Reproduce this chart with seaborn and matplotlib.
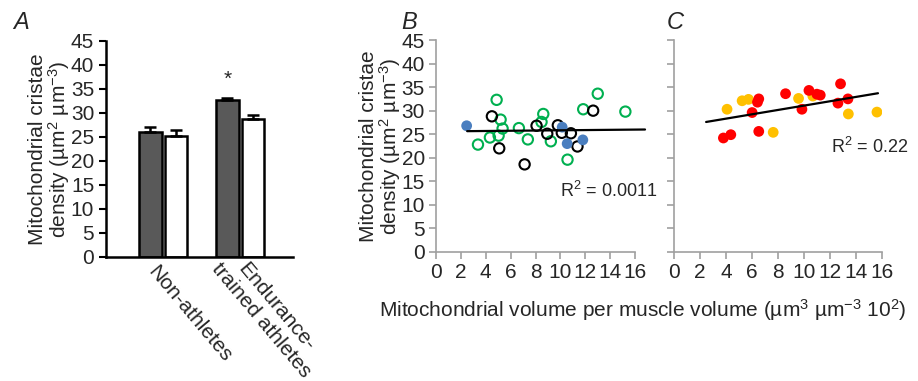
import numpy as np
import pandas as pd
import matplotlib
matplotlib.use('Agg')
import matplotlib.pyplot as plt
import matplotlib.transforms as mtransforms
import seaborn as sns

# ==============================================================================
# DATA
# ==============================================================================
# Panel A - bar chart, mean + SEM
groups = ['Non-athletes', 'Endurance-\ntrained athletes']
series = ['dark', 'light']
bar_dark = [26.1, 32.6]
bar_dark_sem = [1.0, 0.6]
bar_light = [25.3, 28.7]
bar_light_sem = [1.2, 0.9]
star_value = 37.0

# Panel B - scatter
b_blue_x = [2.46, 10.14, 10.54, 11.80]
b_blue_y = [26.8, 26.5, 23.0, 23.8]
b_green_x = [3.37, 4.33, 4.87, 5.19, 5.03, 5.35, 6.66, 7.38, 8.48, 8.62, 9.23, 10.57, 11.83, 13.00, 15.22]
b_green_y = [22.8, 24.3, 32.3, 28.1, 24.7, 26.2, 26.3, 23.9, 27.6, 29.3, 23.5, 19.6, 30.3, 33.6, 29.8]
b_black_x = [4.49, 5.08, 7.12, 8.08, 8.94, 9.79, 10.11, 10.84, 11.37, 12.63]
b_black_y = [28.8, 22.0, 18.6, 26.8, 25.1, 26.9, 25.3, 25.2, 22.4, 30.0]
trend_b_x = [2.5, 16.8]
trend_b_y = [25.65, 26.0]
r2_b = 'R$^2$ = 0.0011'

# Panel C - scatter
c_red_x = [3.80, 4.37, 6.01, 6.42, 6.52, 6.52, 8.58, 9.84, 10.38, 10.99, 11.25, 12.61, 12.81, 13.38]
c_red_y = [24.2, 24.9, 29.6, 31.8, 32.5, 25.6, 33.6, 30.3, 34.3, 33.5, 33.3, 31.6, 35.7, 32.5]
c_orange_x = [4.08, 5.24, 5.73, 7.63, 9.58, 10.68, 13.41, 15.61]
c_orange_y = [30.3, 32.1, 32.4, 25.4, 32.6, 33.1, 29.3, 29.7]
trend_c_x = [2.47, 15.69]
trend_c_y = [27.6, 33.7]
r2_c = 'R$^2$ = 0.22'

y_ticks = list(range(0, 50, 5))
x_ticks = list(range(0, 18, 2))

ylab = 'Mitochondrial cristae\ndensity (µm$^2$ µm$^{-3}$)'
xlab = 'Mitochondrial volume per muscle volume (µm$^3$ µm$^{-3}$ 10$^2$)'

# ==============================================================================
# STYLE
# ==============================================================================
sns.set_style('ticks')
plt.rcParams['font.family'] = ['Liberation Sans', 'DejaVu Sans']
plt.rcParams['mathtext.default'] = 'regular'

FS = 15
GREY = '#a0a0a0'

fig = plt.figure(figsize=(9.18, 3.81), dpi=100)

# ==============================================================================
# PANEL A
# ==============================================================================
axA = fig.add_axes([0.1155, 0.3255, 0.2037, 0.567])
dfA = pd.DataFrame({
    'group': groups * 2,
    'series': [series[0]] * 2 + [series[1]] * 2,
    'value': bar_dark + bar_light,
})
sns.barplot(data=dfA, x='group', y='value', hue='series', order=groups, hue_order=series,
            palette=['#595959', 'white'], saturation=1, edgecolor='black', linewidth=1.8,
            width=0.668, gap=0.13, errorbar=None, legend=False, ax=axA)

for cont, sems in zip(axA.containers, [bar_dark_sem, bar_light_sem]):
    for bar, s in zip(cont, sems):
        xc = bar.get_x() + bar.get_width() / 2
        axA.errorbar(xc, bar.get_height(), yerr=[[0], [s]], color='black',
                     elinewidth=1.8, capsize=4.3, capthick=1.8)

# significance star over the endurance dark bar
star_bar = axA.containers[0][1]
axA.text(star_bar.get_x() + star_bar.get_width() / 2, star_value, '*',
         ha='center', va='center', fontsize=FS)

axA.set_xlim(-0.744, 1.684)
axA.set_ylim(0, 45)
axA.set_yticks(y_ticks)
axA.tick_params(axis='y', labelsize=FS, length=5, width=1.5, color='black')
axA.tick_params(axis='x', length=0, labelbottom=False)
axA.set_xlabel('')
axA.set_ylabel(ylab, fontsize=FS, labelpad=-1, linespacing=0.95)
for sp in ['left', 'bottom']:
    axA.spines[sp].set_linewidth(1.8)
    axA.spines[sp].set_color('black')
sns.despine(ax=axA)

# rotated category labels
trans = mtransforms.blended_transform_factory(axA.transData, axA.transAxes)
label_pos = [(0.345, -0.262), (1.37, -0.262)]
for name, (lx, ly) in zip(groups, label_pos):
    axA.text(lx, ly, name, transform=trans, rotation=-50, rotation_mode='anchor',
             ha='center', va='center', multialignment='center', fontsize=FS,
             linespacing=1.05)

# ==============================================================================
# PANELS B / C
# ==============================================================================
def style_scatter_axes(ax, show_ylabels):
    ax.set_xlim(0, 16)
    ax.set_ylim(0, 45)
    ax.set_xticks(x_ticks)
    ax.set_yticks(y_ticks)
    ax.tick_params(labelsize=FS, length=5, width=1.2, color=GREY, pad=3)
    if not show_ylabels:
        ax.tick_params(axis='y', labelleft=False)
    for sp in ['left', 'bottom']:
        ax.spines[sp].set_color(GREY)
        ax.spines[sp].set_linewidth(1.2)
    sns.despine(ax=ax)


axB = fig.add_axes([0.475, 0.3386, 0.2168, 0.5564])
sns.scatterplot(x=b_green_x, y=b_green_y, ax=axB, s=55, facecolors='none',
                edgecolor='#00b050', linewidth=1.5, zorder=3)
sns.scatterplot(x=b_black_x, y=b_black_y, ax=axB, s=55, facecolors='none',
                edgecolor='black', linewidth=1.5, zorder=3)
sns.scatterplot(x=b_blue_x, y=b_blue_y, ax=axB, s=60, color='#4a7ebf',
                edgecolor='none', zorder=3)
sns.lineplot(x=trend_b_x, y=trend_b_y, ax=axB, color='black', linewidth=1.6,
             clip_on=False, zorder=4)
axB.text(9.97, 12.95, r2_b, ha='left', va='center', fontsize=13)
style_scatter_axes(axB, True)
axB.set_ylabel(ylab, fontsize=FS, labelpad=-1, linespacing=0.95)

axC = fig.add_axes([0.7342, 0.3386, 0.2266, 0.5564])
sns.scatterplot(x=c_orange_x, y=c_orange_y, ax=axC, s=60, color='#ffc000',
                edgecolor='none', zorder=3)
sns.scatterplot(x=c_red_x, y=c_red_y, ax=axC, s=60, color='#ff0000',
                edgecolor='none', zorder=3)
sns.lineplot(x=trend_c_x, y=trend_c_y, ax=axC, color='black', linewidth=1.6,
             clip_on=False, zorder=4)
axC.text(12.1, 22.3, r2_c, ha='left', va='center', fontsize=13)
style_scatter_axes(axC, False)

# ==============================================================================
# FIGURE TEXT
# ==============================================================================
fig.text(0.700, 0.186, xlab, ha='center', va='center', fontsize=FS)
for letter, fx in [('A', 0.023), ('B', 0.446), ('C', 0.736)]:
    fig.text(fx, 0.942, letter, ha='center', va='center', fontsize=17, style='italic')

fig.savefig('out.png', dpi=100)
plt.close(fig)
